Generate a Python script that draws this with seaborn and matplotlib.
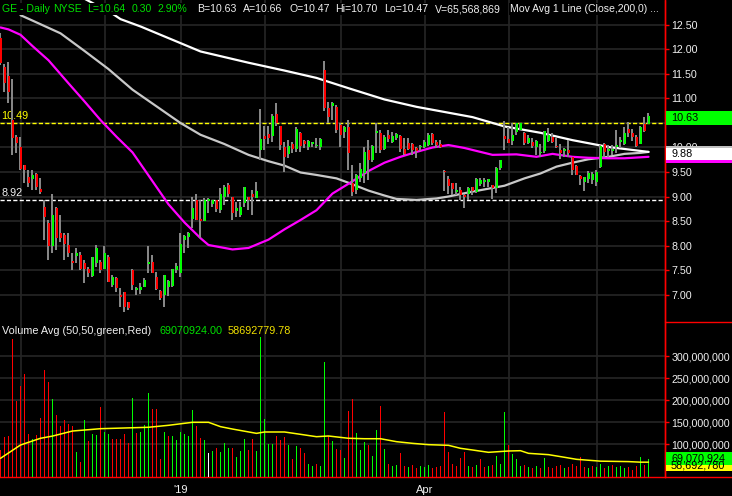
import numpy as np
import pandas as pd
import matplotlib
matplotlib.use("Agg")
import matplotlib.pyplot as plt
from matplotlib.patches import Rectangle
from matplotlib.lines import Line2D
from matplotlib.transforms import blended_transform_factory
import seaborn as sns

# ---------------- data ----------------
holidays = ["2018-11-22", "2018-12-05", "2018-12-25", "2019-01-01",
            "2019-01-21", "2019-02-18", "2019-04-19", "2019-05-27"]
dates = pd.bdate_range("2018-10-25", "2019-06-20", freq="C", holidays=holidays)

open_ = [12.23, 11.65, 11.45, 10.56, 10.21, 10.02, 9.64, 9.40, 9.35, 9.46,
         9.15, 8.79, 8.45, 7.98, 8.76, 8.25, 8.21, 8.01, 7.69, 7.79,
         7.81, 7.64, 7.53, 7.38, 7.64, 7.67, 7.53, 7.77, 7.19, 7.33,
         6.99, 7.06, 6.85, 7.51, 7.10, 7.09, 7.16, 7.62, 7.67, 7.36,
         7.07, 6.99, 7.16, 7.18, 7.49, 7.43, 8.12, 8.17, 8.54, 8.93,
         8.54, 8.50, 8.90, 8.85, 8.92, 8.73, 9.00, 9.23, 8.99, 8.70,
         8.62, 8.86, 8.99, 9.05, 8.96, 9.94, 10.24, 10.28, 10.24, 10.68,
         10.43, 10.02, 9.87, 10.07, 9.96, 10.30, 10.13, 10.00, 10.07, 10.03,
         10.02, 11.58, 10.80, 10.84, 10.83, 10.46, 10.32, 10.41, 9.27, 9.13,
         9.37, 9.47, 9.95, 9.75, 10.30, 10.29, 9.96, 10.25, 10.12, 10.19,
         10.24, 9.96, 10.09, 10.08, 9.98, 10.00, 10.02, 10.05, 10.27, 10.12,
         10.08, 9.53, 9.35, 9.27, 9.10, 9.14, 9.03, 9.05, 9.20, 9.10,
         9.26, 9.30, 9.29, 9.23, 9.17, 9.58, 10.24, 10.17, 10.14, 10.31,
         10.36, 10.30, 10.09, 10.12, 10.02, 9.89, 9.93, 10.14, 10.21, 10.02,
         9.95, 9.93, 9.95, 9.81, 9.62, 9.42, 9.30, 9.35, 9.34, 9.30,
         9.61, 10.07, 9.93, 9.93, 10.00, 10.12, 10.07, 10.37, 10.29, 10.22,
         10.08, 10.48, 10.47]
high = [12.33, 11.70, 11.75, 11.39, 10.26, 10.22, 9.64, 9.54, 9.54, 9.47,
        9.37, 8.93, 8.52, 9.06, 8.79, 8.62, 8.25, 8.25, 7.84, 7.94,
        7.87, 7.70, 7.57, 7.77, 8.01, 7.70, 7.98, 7.81, 7.40, 7.36,
        7.13, 7.06, 6.85, 7.53, 7.16, 7.23, 7.33, 7.98, 7.81, 7.46,
        7.09, 7.40, 7.30, 7.53, 7.64, 8.25, 8.21, 8.28, 8.99, 9.06,
        8.93, 8.96, 8.96, 8.93, 8.93, 9.17, 9.24, 9.27, 8.99, 8.89,
        8.89, 9.20, 8.99, 9.13, 9.30, 10.78, 10.44, 10.44, 10.68, 10.90,
        10.43, 10.12, 10.15, 10.12, 10.42, 10.32, 10.15, 10.15, 10.12, 10.19,
        10.19, 11.77, 10.92, 10.92, 10.87, 10.49, 10.43, 10.57, 9.64, 9.46,
        9.68, 10.02, 10.15, 10.05, 10.49, 10.36, 10.26, 10.36, 10.32, 10.29,
        10.26, 10.19, 10.19, 10.09, 10.02, 10.05, 10.15, 10.30, 10.29, 10.15,
        10.15, 9.54, 9.42, 9.28, 9.27, 9.20, 9.06, 9.19, 9.20, 9.37,
        9.37, 9.37, 9.36, 9.23, 9.61, 9.74, 10.54, 10.42, 10.49, 10.51,
        10.51, 10.32, 10.25, 10.19, 10.15, 10.07, 10.34, 10.39, 10.29, 10.19,
        10.07, 9.98, 10.15, 9.81, 9.64, 9.44, 9.40, 9.53, 9.51, 9.54,
        10.05, 10.09, 10.05, 10.05, 10.36, 10.22, 10.41, 10.53, 10.37, 10.26,
        10.44, 10.63, 10.70]
low = [11.68, 11.14, 10.90, 9.85, 9.88, 9.54, 9.27, 9.20, 9.13, 9.13,
       9.06, 8.11, 7.70, 7.84, 7.91, 8.08, 7.70, 7.77, 7.50, 7.64,
       7.50, 7.23, 7.36, 7.36, 7.57, 7.43, 7.53, 7.26, 7.16, 7.06,
       6.75, 6.65, 6.68, 7.09, 6.99, 7.02, 7.16, 7.43, 7.43, 7.09,
       6.89, 6.75, 6.96, 7.16, 7.43, 7.36, 7.84, 7.94, 8.35, 8.52,
       8.15, 8.49, 8.67, 8.79, 8.69, 8.66, 8.82, 8.98, 8.52, 8.59,
       8.59, 8.79, 8.72, 8.62, 8.96, 9.75, 9.94, 10.07, 10.12, 10.43,
       9.94, 9.51, 9.78, 9.88, 9.91, 9.91, 9.98, 9.95, 10.02, 9.98,
       9.95, 10.75, 10.49, 10.56, 10.29, 10.02, 10.19, 9.54, 9.01, 9.05,
       9.30, 9.28, 9.34, 9.71, 9.88, 9.88, 9.95, 10.12, 10.10, 10.15,
       9.91, 9.85, 9.95, 9.85, 9.78, 9.92, 9.98, 10.03, 10.05, 9.98,
       9.98, 9.12, 9.05, 9.03, 9.03, 8.93, 8.77, 8.93, 9.03, 9.08,
       9.21, 9.20, 9.19, 8.95, 9.08, 9.55, 9.94, 10.09, 10.05, 10.26,
       10.36, 10.05, 10.07, 9.98, 9.85, 9.81, 9.89, 10.12, 10.09, 9.98,
       9.76, 9.80, 9.81, 9.44, 9.44, 9.23, 9.12, 9.28, 9.26, 9.22,
       9.58, 9.81, 9.81, 9.85, 9.88, 9.98, 10.05, 10.22, 10.14, 10.02,
       10.07, 10.32, 10.47]
close = [11.72, 11.31, 11.14, 10.19, 10.10, 9.57, 9.54, 9.27, 9.44, 9.20,
         9.10, 8.59, 7.98, 8.62, 8.15, 8.15, 8.04, 7.84, 7.65, 7.84,
         7.53, 7.53, 7.43, 7.76, 7.94, 7.50, 7.84, 7.26, 7.36, 7.13,
         6.95, 6.75, 6.72, 7.19, 7.13, 7.16, 7.30, 7.67, 7.43, 7.12,
         6.92, 7.40, 7.28, 7.53, 7.59, 8.04, 8.20, 8.25, 8.76, 8.52,
         8.51, 8.93, 8.95, 8.92, 8.74, 9.06, 9.20, 9.06, 8.66, 8.76,
         8.79, 9.20, 8.93, 8.98, 9.11, 10.17, 10.17, 10.19, 10.65, 10.51,
         10.05, 9.81, 10.03, 9.96, 10.38, 10.03, 10.07, 10.13, 10.12, 10.05,
         10.17, 10.80, 10.63, 10.90, 10.36, 10.26, 10.41, 9.88, 9.10, 9.44,
         9.57, 9.91, 9.75, 10.03, 10.33, 9.95, 10.22, 10.17, 10.23, 10.27,
         9.96, 9.87, 9.96, 9.95, 9.92, 10.03, 10.12, 10.26, 10.09, 10.05,
         10.02, 9.49, 9.21, 9.15, 9.14, 9.03, 8.98, 9.17, 9.12, 9.35,
         9.34, 9.33, 9.35, 9.17, 9.59, 9.74, 10.17, 10.10, 10.26, 10.49,
         10.49, 10.10, 10.19, 10.03, 10.14, 9.90, 10.34, 10.26, 10.12, 10.00,
         9.88, 9.96, 9.88, 9.54, 9.44, 9.35, 9.39, 9.47, 9.46, 9.51,
         10.03, 9.90, 9.97, 9.96, 10.05, 10.15, 10.29, 10.29, 10.21, 10.03,
         10.42, 10.34, 10.64]

# daily volume, millions of shares; u = up day, d = down day, n = unchanged
volume_m = [86, 115, 118, 338, 198, 232, 259, 123, 111, 120,
            158, 268, 241, 202, 165, 141, 155, 146, 141, 82,
            60, 155, 107, 123, 120, 184, 127, 122, 112, 111,
            111, 123, 102, 204, 126, 128, 143, 217, 180, 180,
            67, 128, 118, 118, 108, 127, 122, 118, 177, 142,
            114, 108, 79, 83, 92, 82, 103, 92, 90, 71,
            84, 111, 86, 112, 85, 344, 156, 100, 100, 118,
            108, 115, 98, 67, 96, 92, 80, 55, 50, 55,
            50, 287, 118, 107, 89, 86, 69, 175, 202, 125,
            86, 105, 98, 73, 132, 186, 89, 55, 50, 52,
            80, 50, 48, 52, 45, 50, 48, 52, 45, 48,
            50, 173, 82, 55, 50, 68, 82, 50, 48, 52,
            65, 48, 50, 52, 73, 55, 173, 98, 77, 66,
            50, 52, 48, 45, 50, 45, 68, 48, 45, 50,
            52, 45, 48, 55, 50, 71, 48, 45, 50, 48,
            55, 45, 50, 52, 48, 50, 45, 48, 42, 50,
            70, 52, 65.6]
volume_dir = ("ddddddddud" "dddudddddu" "duduuduudd" "ddduduuudd" "duduuuuuud"
              "dunuduuudu" "uudduuuuud" "ddududduud" "uududduddu" "uuduududuu"
              "ddudduuudd" "dddddddudu" "dduduuuduu" "ududududdd" "dudddddudu"
              "ududuuuddd" "udu")

# moving averages sampled along the session axis (bar number, value)
ma200_bar = [20, 28, 30, 35, 45, 50, 62, 71, 79, 87, 96, 104, 112, 118, 126,
             135, 143, 152, 160, 162]
ma200 = [13.08, 12.73, 12.62, 12.47, 12.13, 11.96, 11.73, 11.57, 11.42, 11.21,
         10.98, 10.83, 10.71, 10.62, 10.43, 10.30, 10.15, 10.01, 9.93, 9.91]
ma100_bar = [5, 8, 15, 21, 27, 33, 39, 45, 50, 56, 62, 67, 71, 75, 79, 84,
             87, 92, 96, 99, 104, 109, 112, 118, 126, 131, 135, 139, 143, 147,
             152, 156, 160, 162]
ma100 = [12.70, 12.59, 12.33, 11.97, 11.60, 11.18, 10.84, 10.50, 10.26,
         10.07, 9.85, 9.72, 9.63, 9.49, 9.44, 9.37, 9.28, 9.12, 9.02, 8.95,
         8.93, 8.96, 9.00, 9.10, 9.22, 9.37, 9.47, 9.61, 9.69, 9.76, 9.81,
         9.87, 9.89, 9.91]
ma50_bar = [0, 2, 5, 8, 12, 17, 21, 25, 29, 33, 37, 42, 46, 50, 52, 58, 62,
            67, 71, 75, 79, 83, 87, 92, 96, 100, 104, 108, 112, 116, 120, 123,
            129, 134, 138, 143, 147, 152, 156, 160, 162]
ma50 = [12.45, 12.41, 12.30, 12.07, 11.78, 11.31, 10.94, 10.56, 10.22, 9.90,
        9.43, 8.84, 8.47, 8.15, 8.01, 7.92, 7.95, 8.12, 8.33, 8.52, 8.72,
        9.06, 9.26, 9.52, 9.69, 9.81, 9.91, 10.00, 10.05, 9.99, 9.91, 9.85,
        9.86, 9.81, 9.87, 9.81, 9.79, 9.78, 9.78, 9.80, 9.81]
vol_avg_bar = [0, 5, 10, 13, 18, 25, 31, 37, 42, 48, 52, 55, 58, 64, 66, 71,
               75, 79, 82, 87, 91, 95, 99, 103, 107, 112, 115, 118, 122, 127,
               130, 132, 137, 141, 144, 150, 157, 160, 162]
vol_avg_m = [67.5, 97.7, 113, 118, 129.5, 134.8, 136.4, 138, 142.5, 149.3,
             149.3, 139.4, 134, 124.2, 127.3, 127.3, 122, 116.6, 118.2, 113,
             112, 112, 105.3, 101.5, 98.5, 97, 90.2, 86.4, 81.1, 84.1, 84.8,
             78.8, 75.8, 69.8, 65.2, 61, 60, 58.7, 58.7]

resistance = 10.49
support = 8.92
last_price_tag = "10.63"
ma_tag = "9.88"
vol_tag = "69,070,924"
vol_avg_tag = "58,692,780"

price_ticks = [7.0, 7.5, 8.0, 8.5, 9.0, 9.5, 10.0, 10.5, 11.0, 11.5, 12.0, 12.5]
volume_ticks_m = [100, 150, 200, 250, 300]

header_green = [("GE - Daily", 2), ("NYSE", 53), ("L=10.64", 87),
                ("0.30", 132), ("2.90%", 158)]
header_white = [("B=10.63", 197), ("A=10.66", 243), ("O=10.47", 289),
                ("Hi=10.70", 335), ("Lo=10.47", 384), ("V=65,568,869", 435),
                ("Mov Avg 1 Line (Close,200,0) ...", 510)]

# ---------------- styling ----------------
sns.set_style("dark")
plt.rcParams["font.family"] = ["Liberation Sans", "DejaVu Sans"]

BLACK = "#000000"
GRID = "#262626"
RED = "#ff0000"
GREEN = "#00ff00"
WICK = "#8a8a8a"
TXT = "#f0f0f0"

n = len(close)
dates = dates[:n]
pos = np.arange(n)
o = np.array(open_); h = np.array(high); l = np.array(low); c = np.array(close)
vol = np.array(volume_m) * 1e6

W, H = 732, 496
fig = plt.figure(figsize=(W / 100, H / 100), dpi=100, facecolor=BLACK)


def frect(x0, y0, x1, y1):
    return [x0 / W, 1 - y1 / H, (x1 - x0) / W, (y1 - y0) / H]


def fx(x):
    return x / W


def fy(y):
    return 1 - y / H


ax = fig.add_axes(frect(0, 0, 665, 322))
axv = fig.add_axes(frect(0, 322, 665, 477), sharex=ax)
for a in (ax, axv):
    a.set_facecolor(BLACK)
    for s in ("top", "left", "bottom"):
        a.spines[s].set_visible(False)
    a.spines["right"].set_color(RED)
    a.spines["right"].set_linewidth(1.0)
    a.grid(True, color=GRID, linewidth=1.2)
    a.set_axisbelow(True)
axv.spines["bottom"].set_visible(True)
axv.spines["bottom"].set_color(RED)
axv.spines["bottom"].set_linewidth(1.0)

ax.set_xlim(-0.125, 166.125)
ax.set_ylim(6.439, 13.010)
axv.set_ylim(25e6, 377.3e6)

# month boundaries
month_start = [i for i in range(1, n) if dates[i].month != dates[i - 1].month]
month_lbl = []
for i in month_start:
    d = dates[i]
    if d.month == 1:
        month_lbl.append("'" + str(d.year)[2:])
    elif d.month in (4, 7, 10):
        month_lbl.append(d.strftime("%b"))
    else:
        month_lbl.append("")
axv.set_xticks(month_start)
axv.set_xticklabels(month_lbl)
axv.tick_params(axis="x", colors=RED, length=3, width=1, pad=3,
                labelcolor=TXT, labelsize=8)
ax.tick_params(axis="x", length=0, labelbottom=False)

# right-hand price scale (the 10.50 label sits under the last-price tag)
ax.yaxis.tick_right()
ax.set_yticks(price_ticks)
ax.set_yticklabels(["" if v == 10.5 else f"{v:.2f}" for v in price_ticks])
ax.tick_params(axis="y", colors=RED, length=3, width=1, pad=1.8,
               labelcolor=TXT, labelsize=7.7)
axv.yaxis.tick_right()
axv.set_yticks([v * 1e6 for v in volume_ticks_m])
axv.set_yticklabels([f"{v * 1e6:,.0f}" for v in volume_ticks_m])
axv.tick_params(axis="y", colors=RED, length=3, width=1, pad=1.8,
                labelcolor=TXT, labelsize=7.7)

# ---------------- price panel ----------------
ax.axhline(resistance, color="#ffff00", lw=1.0, ls=(0, (3, 1.6)), zorder=2)
ax.axhline(support, color="#ffffff", lw=1.0, ls=(0, (3, 1.6)), zorder=2)

sns.lineplot(x=ma100_bar, y=ma100, ax=ax, color="#c8c8c8", lw=1.6, zorder=3)
sns.lineplot(x=ma200_bar, y=ma200, ax=ax, color="#ffffff", lw=1.6, zorder=3)
sns.lineplot(x=ma50_bar, y=ma50, ax=ax, color="#ff00ff", lw=1.6, zorder=4)

ax.vlines(pos - 0.12, l, h, color=WICK, lw=1.4, zorder=5)
body_col = np.where(c >= o, GREEN, RED)
ax.bar(pos + 0.13, np.maximum(np.abs(c - o), 0.025), bottom=np.minimum(o, c),
       width=0.62, color=body_col, linewidth=0, zorder=6)
ax.set_xlabel(""); ax.set_ylabel("")

ax.text(fx(1), resistance + 0.05, f"{resistance:.2f}", color="#ffff00",
        fontsize=7.8, va="bottom", ha="left",
        transform=blended_transform_factory(fig.transFigure, ax.transData))
ax.text(fx(2), support + 0.05, f"{support:.2f}", color=TXT,
        fontsize=7.8, va="bottom", ha="left",
        transform=blended_transform_factory(fig.transFigure, ax.transData))

# ---------------- volume panel ----------------
vcol = [GREEN if t == "u" else (RED if t == "d" else "#ffffff") for t in volume_dir[:n]]
axv.bar(pos, vol, width=0.34, color=vcol, linewidth=0, zorder=3)
sns.lineplot(x=vol_avg_bar, y=np.array(vol_avg_m) * 1e6, ax=axv,
             color="#ffff00", lw=1.1, zorder=4)
axv.set_xlabel(""); axv.set_ylabel("")

# ---------------- header texts ----------------
hdr_kw = dict(fontsize=7.6, va="center", ha="left",
              bbox=dict(facecolor=BLACK, edgecolor="none", pad=0.4))
for t, x in header_green:
    fig.text(fx(x), fy(9), t, color="#00e000", **hdr_kw)
for t, x in header_white:
    fig.text(fx(x), fy(9), t, color=TXT, **hdr_kw)

fig.text(fx(2), fy(330.5), "Volume Avg (50,50,green,Red)", color=TXT,
         fontsize=7.8, va="center", ha="left")
fig.text(fx(159), fy(330.5), "69070924.00", color="#00e000",
         fontsize=7.8, va="center", ha="left")
fig.text(fx(228), fy(330.5), "58692779.78", color="#f0e000",
         fontsize=7.8, va="center", ha="left")

# ---------------- scale frame and value tags ----------------
fig.add_artist(Line2D([fx(665), 1], [fy(322), fy(322)], color=RED, lw=1.0))
fig.add_artist(Line2D([fx(665), 1], [fy(476.5), fy(476.5)], color=RED, lw=1.0))
fig.add_artist(Line2D([fx(665), fx(665)], [fy(0), fy(477)], color=RED, lw=1.0))


def tag(y0, y1, face, text=None, tcolor=BLACK, ty=None):
    fig.add_artist(Rectangle((fx(666), fy(y1)), 1 - fx(666), (y1 - y0) / H,
                             facecolor=face, edgecolor="none",
                             transform=fig.transFigure, zorder=5))
    if text is not None:
        fig.text(fx(671), fy(ty if ty is not None else (y0 + y1) / 2), text,
                 color=tcolor, fontsize=7.8, va="center", ha="left", zorder=6)


tag(111, 125, GREEN, last_price_tag)
tag(146, 148.5, "#c0c0c0")
tag(148.5, 160, "#ffffff", ma_tag, ty=154)
tag(160, 162.5, "#ff00ff")
tag(459, 471, "#ffff00", vol_avg_tag, ty=465)
tag(452, 465, GREEN, vol_tag, ty=458.5)

fig.savefig("out.png", dpi=100, facecolor=BLACK)
